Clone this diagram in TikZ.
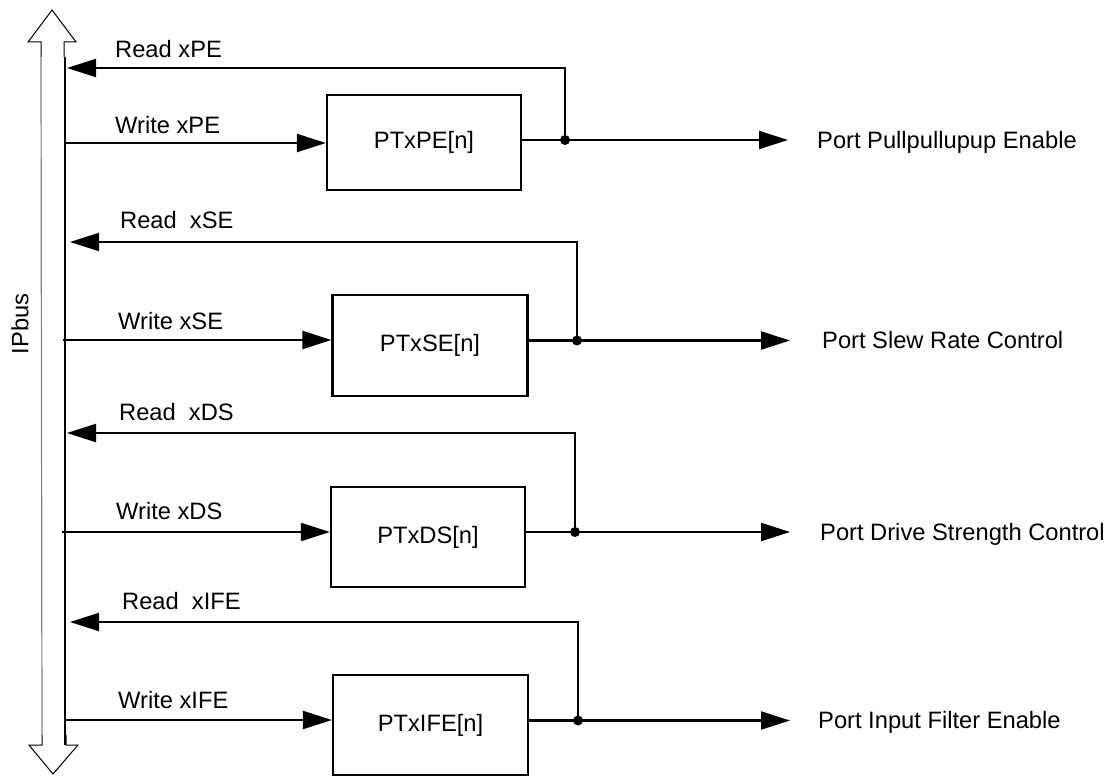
\documentclass[tikz,border=0pt]{standalone}
\usepackage{fontspec}
\setmainfont{Liberation Sans}
\usetikzlibrary{arrows.meta}
\begin{document}
\begin{tikzpicture}[x=1pt,y=-1pt,
  txt/.style={font=\fontsize{23.7}{28}\selectfont, inner sep=0pt},
  lbl/.style={txt, anchor=base west},
  regbox/.style={draw, line width=2.2pt, inner sep=0pt, txt},
  wire/.style={line width=2.2pt},
  arr/.style={wire, -{Triangle[length=29pt,width=18pt]}},
  junct/.style={circle, fill, inner sep=0pt, minimum size=10pt},
  busline/.style={line width=2.2pt},
  busoutline/.style={line width=1pt, line join=miter},
]
\useasboundingbox (0,0) rectangle (1108,776);

% ---- IPbus ----
\coordinate (btl) at (41,57);
\coordinate (btr) at (65,57);
\coordinate (bbl) at (42,735);
\coordinate (bbr) at (65,745);
\draw[busoutline] (btl) -- (41,42) -- (28,42) -- (52,10) -- (76,42) -- (64,42) -- (64,57);
\draw[busoutline] (bbl) -- (42,745) -- (29,745) -- (53,774) -- (78,745) -- (66,745) -- (66,735);
\draw[gray, line width=1.2pt] (btl) -- (bbl);
\draw[busline] (btr) -- (bbr);
\node[txt, rotate=90] (ipbus) at (20,324) {IPbus};

% ---- group 1 : PE ----
\node[regbox, minimum width=194pt, minimum height=95pt] (pe) at (424,142.5) {PTxPE[n]};
\coordinate (w1) at (65,143);
\coordinate (d1) at (565,140);
\coordinate (r1) at (67,68);
\coordinate (o1) at (788,140);
\draw[arr] (w1) -- (w1 -| pe.west);
\draw[wire] (pe.east |- d1) -- (d1);
\draw[arr] (d1) |- (r1);
\draw[arr] (d1) -- (o1);
\node[junct] (j1) at (d1) {};
\node[lbl] (lr1) at (115,58) {Read xPE};
\node[lbl] (lw1) at (115,133) {Write xPE};
\node[lbl] (lo1) at (817,148) {Port Pullpullupup Enable};

% ---- group 2 : SE ----
\node[regbox, minimum width=195pt, minimum height=101pt] (se) at (430,345.5) {PTxSE[n]};
\coordinate (w2) at (63,340);
\coordinate (d2) at (577,340.5);
\coordinate (r2) at (70,242);
\coordinate (o2) at (790,340.5);
\draw[arr] (w2) -- (w2 -| se.west);
\draw[wire] (se.east |- d2) -- (d2);
\draw[arr] (d2) |- (r2);
\draw[arr] (d2) -- (o2);
\node[junct] (j2) at (d2) {};
\node[lbl] (lr2) at (120,228) {Read\ \ xSE};
\node[lbl] (lw2) at (118,329) {Write xSE};
\node[lbl] (lo2) at (822,348.5) {Port Slew Rate Control};

% ---- group 3 : DS ----
\node[regbox, minimum width=194pt, minimum height=100pt] (ds) at (428,537) {PTxDS[n]};
\coordinate (w3) at (62,532);
\coordinate (d3) at (575,532);
\coordinate (r3) at (67,433);
\coordinate (o3) at (790,532);
\draw[arr] (w3) -- (w3 -| ds.west);
\draw[wire] (ds.east |- d3) -- (d3);
\draw[arr] (d3) |- (r3);
\draw[arr] (d3) -- (o3);
\node[junct] (j3) at (d3) {};
\node[lbl] (lr3) at (119,420) {Read\ \ xDS};
\node[lbl] (lw3) at (116,519) {Write xDS};
\node[lbl] (lo3) at (820,540) {Port Drive Strength Control};

% ---- group 4 : IFE ----
\node[regbox, minimum width=195pt, minimum height=100pt] (ife) at (430.5,725) {PTxIFE[n]};
\coordinate (w4) at (65,720);
\coordinate (d4) at (578,720.5);
\coordinate (r4) at (70,622);
\coordinate (o4) at (790,720.5);
\draw[arr] (w4) -- (w4 -| ife.west);
\draw[wire] (ife.east |- d4) -- (d4);
\draw[arr] (d4) |- (r4);
\draw[arr] (d4) -- (o4);
\node[junct] (j4) at (d4) {};
\node[lbl] (lr4) at (122,609) {Read\ \ xIFE};
\node[lbl] (lw4) at (118,708) {Write xIFE};
\node[lbl] (lo4) at (818,728.5) {Port Input Filter Enable};
\end{tikzpicture}
\end{document}
